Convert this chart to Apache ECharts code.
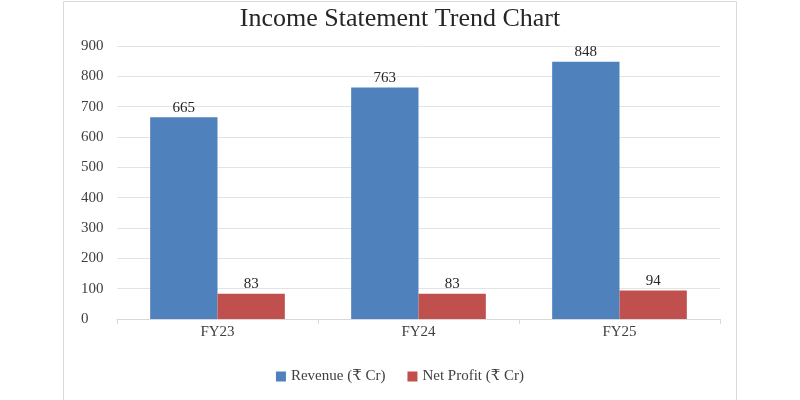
<!DOCTYPE html>
<html>
<head>
<meta charset="utf-8">
<script src="https://cdn.jsdelivr.net/npm/echarts@6/dist/echarts.min.js"></script>
<style>
  html, body { margin: 0; padding: 0; background: #fff; }
  #chart { width: 800px; height: 400px; }
</style>
</head>
<body>
<div id="chart"></div>
<script>
// data
const categories = ['FY23', 'FY24', 'FY25'];
const revenue = [665, 763, 848];
const netProfit = [83, 83, 94];
const yTicks = { min: 0, max: 900, interval: 100 };

const serif = '"Liberation Serif", "DejaVu Serif", serif';

function init() {
    const chart = echarts.init(document.getElementById('chart'));

    const option = {
        backgroundColor: '#fff',
        animation: false,
        title: {
            text: 'Income Statement Trend Chart',
            left: 'center',
            top: 1,
            textStyle: { fontFamily: serif, fontSize: 26, fontWeight: 'normal', color: '#262626' }
        },
        // outer chart frame
        graphic: [{
            type: 'rect',
            shape: { x: 63.5, y: 1.5, width: 673, height: 410 },
            style: { fill: 'none', stroke: '#d9d9d9', lineWidth: 1 },
            silent: true
        }],
        legend: {
            bottom: 11,
            left: 'center',
            itemWidth: 10,
            itemHeight: 10,
            itemGap: 22,
            icon: 'rect',
            textStyle: { fontFamily: serif, fontSize: 15, color: '#404040' },
            data: ['Revenue (₹ Cr)', 'Net Profit (₹ Cr)']
        },
        grid: { left: 117, right: 80, top: 46, bottom: 81 },
        xAxis: {
            type: 'category',
            data: categories,
            axisLine: { lineStyle: { color: '#d9d9d9' } },
            axisTick: { show: true, length: 5, lineStyle: { color: '#d9d9d9' } },
            axisLabel: { fontFamily: serif, fontSize: 15, color: '#404040', margin: 6 }
        },
        yAxis: {
            type: 'value',
            min: yTicks.min,
            max: yTicks.max,
            interval: yTicks.interval,
            axisLine: { show: false },
            axisTick: { show: false },
            splitLine: { lineStyle: { color: '#e3e3e3' } },
            axisLabel: { fontFamily: serif, fontSize: 15, color: '#404040', margin: 36, align: 'left' }
        },
        series: [{
            name: 'Revenue (₹ Cr)',
            type: 'bar',
            data: revenue,
            barGap: '0%',
            barCategoryGap: '33%',
            itemStyle: { color: '#4f81bd' },
            label: { show: true, position: 'top', fontFamily: serif, fontSize: 15, color: '#262626', distance: 2 }
        }, {
            name: 'Net Profit (₹ Cr)',
            type: 'bar',
            data: netProfit,
            itemStyle: { color: '#c0504d' },
            label: { show: true, position: 'top', fontFamily: serif, fontSize: 15, color: '#262626', distance: 2 }
        }]
    };

    chart.setOption(option);
}

window.addEventListener('DOMContentLoaded', init);
</script>
</body>
</html>
